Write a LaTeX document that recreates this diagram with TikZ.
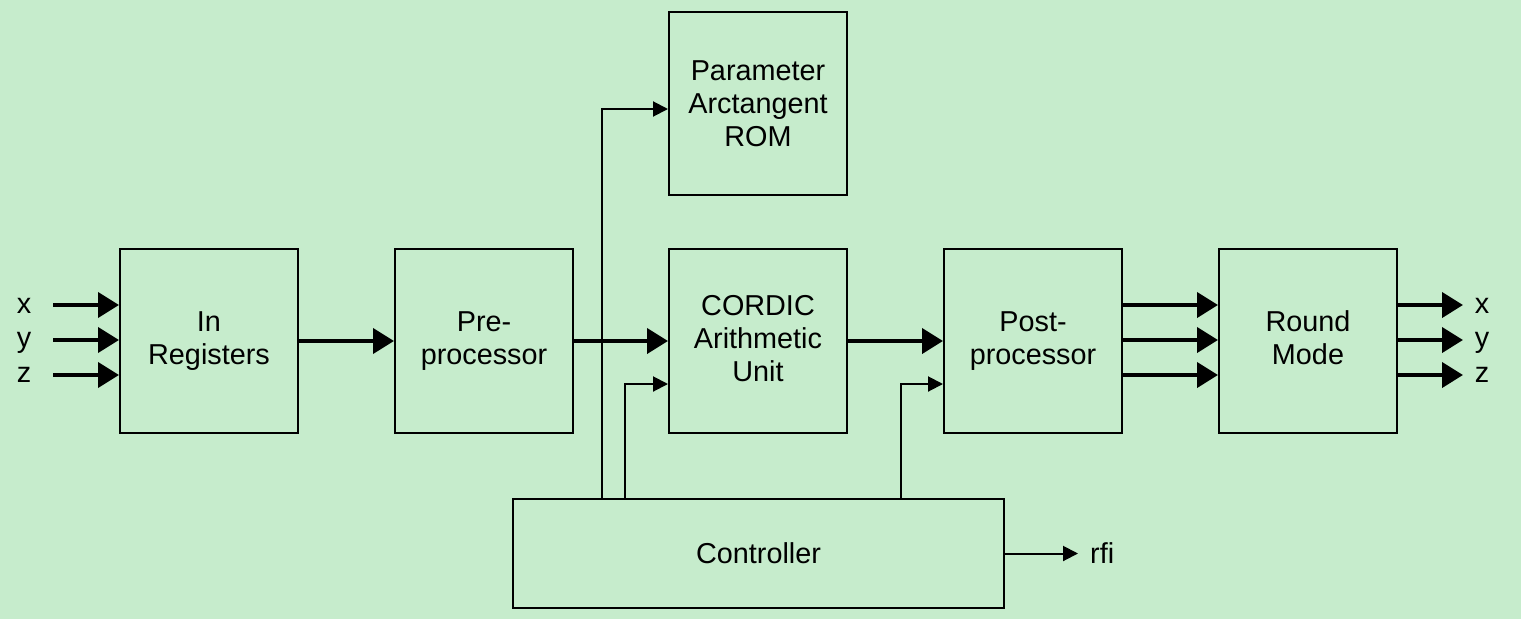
\documentclass[tikz,border=0pt]{standalone}
\usepackage{fontspec}
\setmainfont{Liberation Sans}
\usetikzlibrary{arrows.meta}
\definecolor{bg}{RGB}{198,236,204}
\begin{document}
\begin{tikzpicture}[x=1pt,y=-1pt,
  blk/.style={draw=black,line width=2pt,minimum width=178pt,minimum height=184pt,inner sep=0pt,align=center,font=\fontsize{28.8}{33}\selectfont},
  lbl/.style={anchor=base,inner sep=0pt,font=\fontsize{28.8}{33}\selectfont},
  bus/.style={line width=4pt,-{Triangle[length=21pt,width=25pt]}},
  sig/.style={line width=2pt,-{Triangle[length=15pt,width=15pt]}}]
\fill[bg] (0,0) rectangle (1521,619);
\useasboundingbox (0,0) rectangle (1521,619);
\node[blk] (inreg) at (209,341) {In\\Registers};
\node[blk] (pre) at (484,341) {Pre-\\processor};
\node[blk] (cordic) at (758,341) {CORDIC\\Arithmetic\\Unit\vphantom{p}};
\node[blk,minimum height=183pt] (rom) at (758,103.5) {Parameter\\Arctangent\\ROM};
\node[blk] (post) at (1033,341) {Post-\\processor};
\node[blk] (round) at (1308,341) {Round\\Mode\vphantom{p}};
\node[blk,minimum width=491pt,minimum height=109pt] (ctrl) at (758.5,553.5) {Controller};
% input labels
\node[lbl] (lx) at (24,313) {x};
\node[lbl] (ly) at (24,347) {y};
\node[lbl] (lz) at (24,382) {z};
\node[lbl] (ox) at (1482,313) {x};
\node[lbl] (oy) at (1482,347) {y};
\node[lbl] (oz) at (1482,382) {z};
\node[lbl,anchor=base west] (rfi) at (1090,563) {rfi};
% input coordinates
\coordinate (i1) at (53,305);
\coordinate (i2) at (53,340);
\coordinate (i3) at (53,375);
\draw[bus] (i1) -- (inreg.west |- i1);
\draw[bus] (i2) -- (inreg.west |- i2);
\draw[bus] (i3) -- (inreg.west |- i3);
\draw[bus] (inreg.east) -- (pre.west);
\draw[bus] (pre.east) -- (cordic.west);
\draw[bus] (cordic.east) -- (post.west);
\draw[bus] (post.east |- i1) -- (round.west |- i1);
\draw[bus] (post.east |- i2) -- (round.west |- i2);
\draw[bus] (post.east |- i3) -- (round.west |- i3);
\coordinate (o1) at (1463,305);
\coordinate (o2) at (1463,340);
\coordinate (o3) at (1463,375);
\draw[bus] (round.east |- o1) -- (o1);
\draw[bus] (round.east |- o2) -- (o2);
\draw[bus] (round.east |- o3) -- (o3);
% control signals
\coordinate (c1) at (602,499);
\coordinate (c2) at (625,499);
\coordinate (c3) at (901,499);
\coordinate (romin) at (669,109);
\coordinate (cin) at (669,384);
\coordinate (pin) at (944,384);
\draw[sig] (c1) |- (rom.west |- romin);
\draw[sig] (c2) |- (cordic.west |- cin);
\draw[sig] (c3) |- (post.west |- pin);
\coordinate (rfiend) at (1078,553.5);
\draw[sig] (ctrl.east) -- (rfiend);
\end{tikzpicture}
\end{document}
